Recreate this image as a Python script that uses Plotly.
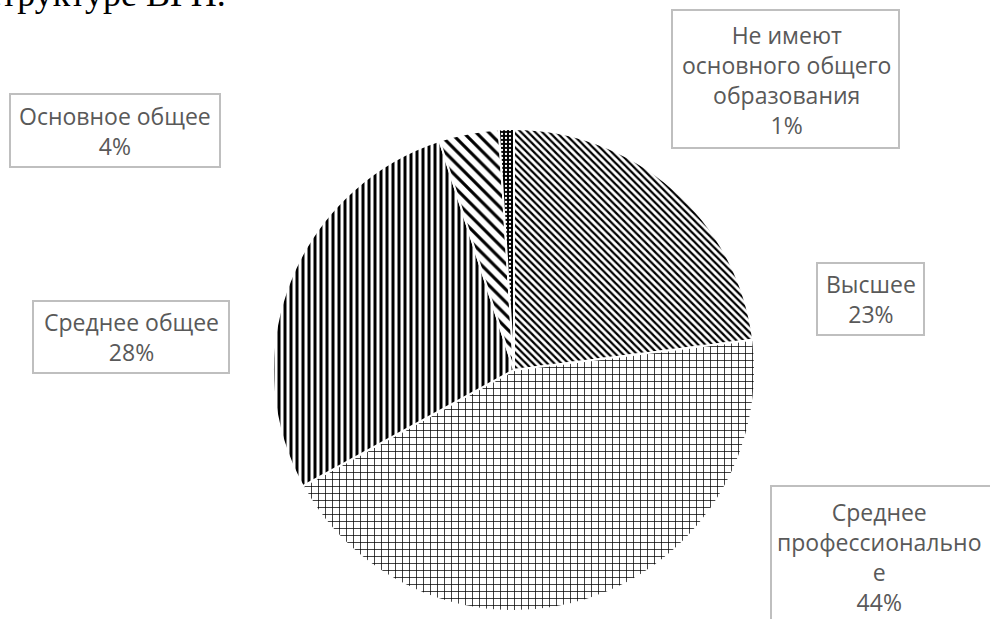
import plotly.graph_objects as go

# ---- data ----
categories = [
    "Высшее",
    "Среднее профессиональное",
    "Среднее общее",
    "Основное общее",
    "Не имеют основного общего образования",
]
label_lines = [
    "Высшее",
    "Среднее<br>профессионально<br>е",
    "Среднее общее",
    "Основное общее",
    "Не имеют<br>основного общего<br>образования",
]
values = [23, 44, 28, 4, 1]

# ---- styles ----
shapes_pat = ["\\", "+", "|", "\\", "."]
fg = ["black", "black", "black", "black", "white"]
bg = ["white", "white", "white", "white", "black"]
psize = [5, 7, 6, 9, 4]
psolid = [0.45, 0.2, 0.5, 0.35, 0.25]

W, H = 990, 619
cx, cy, r = 514, 370, 241

fig = go.Figure(go.Pie(
    labels=categories,
    values=values,
    sort=False,
    direction="clockwise",
    rotation=0,
    textinfo="none",
    hoverinfo="label+percent",
    marker=dict(
        colors=bg,
        line=dict(color="white", width=2),
        pattern=dict(shape=shapes_pat, fgcolor=fg, bgcolor=bg, size=psize,
                     solidity=psolid, fillmode="replace"),
    ),
    domain=dict(x=[(cx - r) / W, (cx + r) / W],
                y=[(H - cy - r) / H, (H - cy + r) / H]),
))

# label boxes (x0, y0, x1, y1) in pixels and text centres
boxes = [
    (817, 263, 924, 335),
    (771, 486, 1000, 640),
    (33, 301, 229, 373),
    (10, 94, 220, 167),
    (672, 10, 899, 148),
]
text_centres = [
    (870.5, 299),
    (879, 557),
    (131, 337),
    (115, 130.5),
    (786, 80),
]

shape_list = []
annotations = []
for lab, v, (x0, y0, x1, y1), (tx, ty) in zip(label_lines, values, boxes, text_centres):
    shape_list.append(dict(
        type="rect", xref="paper", yref="paper",
        x0=x0 / W, x1=x1 / W, y0=1 - y0 / H, y1=1 - y1 / H,
        line=dict(color="#bfbfbf", width=2), fillcolor="white", layer="above",
    ))
    annotations.append(dict(
        x=tx / W, y=1 - ty / H, xref="paper", yref="paper",
        xanchor="center", yanchor="middle",
        text=f"{lab}<br>{v}%", showarrow=False,
        font=dict(family="Open Sans", size=23, color="#595959"),
        align="center",
    ))

annotations.append(dict(
    x=228 / W, y=1 - 16 / H, xref="paper", yref="paper",
    xanchor="right", yanchor="bottom",
    text="структуре ВГП.", showarrow=False,
    font=dict(family="Liberation Serif", size=36, color="black"),
))

fig.update_layout(
    width=W, height=H,
    margin=dict(l=0, r=0, t=0, b=0),
    paper_bgcolor="white", plot_bgcolor="white",
    showlegend=False,
    shapes=shape_list,
    annotations=annotations,
)

fig.write_html("out.html",
               config={"displayModeBar": False},
               post_script="document.body.style.margin='0px';document.body.style.overflow='hidden';")
